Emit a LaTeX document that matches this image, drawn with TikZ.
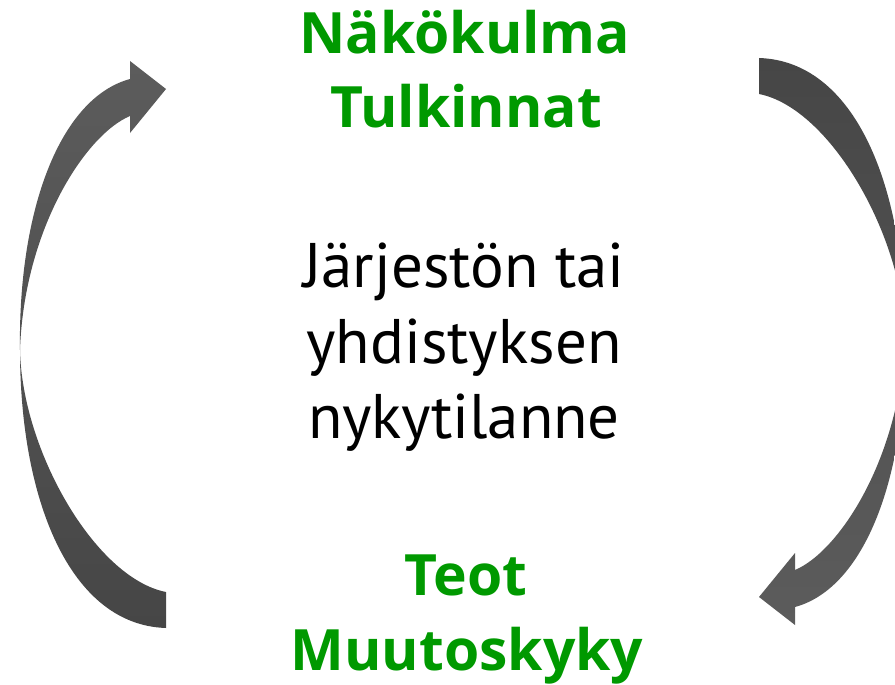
\documentclass[tikz,border=0pt]{standalone}
\usepackage{fontspec}
\setmainfont{PT Sans}
\newfontfamily\headfont{Open Sans}
\definecolor{leafgreen}{RGB}{0,153,0}
\definecolor{arrowlight}{RGB}{92,92,92}
\definecolor{arrowdark}{RGB}{70,70,70}
\tikzstyle{greentext} = [anchor=base, inner sep=0pt, text=leafgreen, font=\headfont\fontsize{57}{75}\selectfont\bfseries]
\tikzstyle{blacktext} = [anchor=base, inner sep=0pt, text=black, font=\fontsize{63}{75}\selectfont]
\tikzstyle{headlight} = [top color=arrowlight, bottom color=arrowdark]
\tikzstyle{taillight} = [top color=arrowdark, bottom color=arrowlight]
% one bent arrow, head at the upper right, tail at the lower right
\newcommand{\bentarrow}{(166,89) -- (130,61) -- (130,79)
    .. controls (60,98) and (18,210) .. (20,350)
    .. controls (20,500) and (70,625) .. (166,628) -- (166,592)
    .. controls (95,578) and (22,450) .. (20,350)
    .. controls (24,230) and (85,135) .. (130,116) -- (130,133) -- cycle}

\begin{document}
\begin{tikzpicture}[x=1pt, y=-1pt]
    \useasboundingbox (0,0) rectangle (895,685);
    \clip (0,0) rectangle (895,685);

    \shade[headlight] \bentarrow;
    \shade[taillight, rotate around={180:(462.5,343)}] \bentarrow;

    \node (nakokulma) [greentext] at (465,54) {Näkökulma};
    \node (tulkinnat) [greentext] at (466,128) {Tulkinnat};
    \node (jarjesto) [blacktext] at (464,287) {Järjestön tai};
    \node (yhdistys) [blacktext] at (464,363) {yhdistyksen};
    \node (nykytila) [blacktext] at (464,438) {nykytilanne};
    \node (teot) [greentext] at (466,595) {Teot};
    \node (muutos) [greentext] at (467,670) {Muutoskyky};

\end{tikzpicture}
\end{document}
